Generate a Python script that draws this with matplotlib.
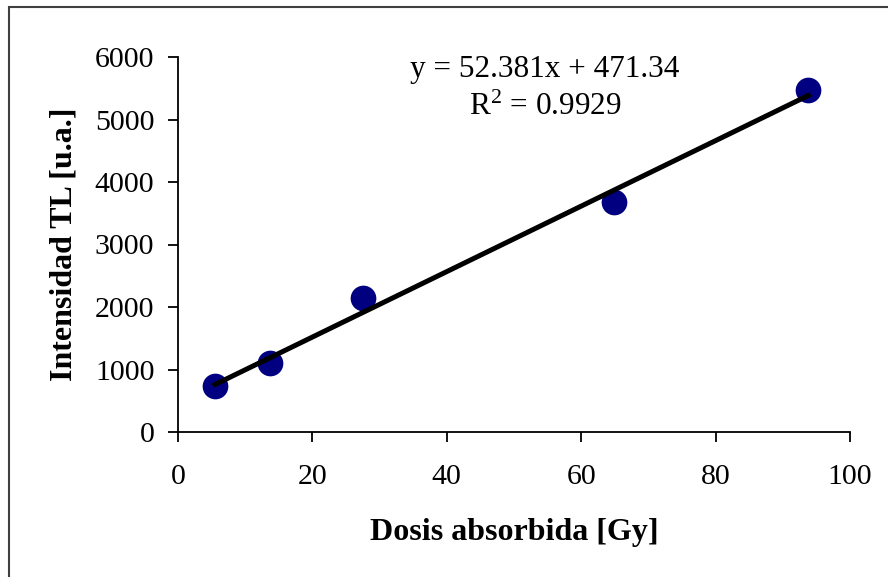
import matplotlib.pyplot as plt
import numpy as np
from matplotlib.patches import Rectangle

plt.rcParams['font.family'] = ['Liberation Serif', 'DejaVu Serif']

# dosis absorbida [Gy] vs intensidad TL [u.a.]
dosis = [5.5, 13.7, 27.5, 64.9, 93.8]
intensidad = [740, 1110, 2150, 3680, 5480]
slope = 52.381
intercept = 471.34
r2 = 0.9929

fig = plt.figure(figsize=(8.88, 5.77), dpi=100)
# outer frame (cut off at right/bottom like the reference)
fig.patches.append(Rectangle((9 / 888, -0.05), 1.0, 1 - 7 / 577 + 0.05,
                             transform=fig.transFigure, fill=False,
                             edgecolor='#404040', lw=1.5))

ax = fig.add_axes([178 / 888, 145 / 577, 672 / 888, 375 / 577])

xfit = np.array([min(dosis), max(dosis)])
ax.plot(xfit, slope * xfit + intercept, color='black', lw=3.6, zorder=3)
ax.plot(dosis, intensidad, 'o', color='#000080', markersize=18.5,
        markeredgewidth=0, zorder=2)

ax.set_xlim(0, 100)
ax.set_ylim(0, 6000)
ax.set_xticks(range(0, 101, 20))
ax.set_yticks(range(0, 6001, 1000))
ax.spines['top'].set_visible(False)
ax.spines['right'].set_visible(False)
for s in ['left', 'bottom']:
    ax.spines[s].set_linewidth(1.3)
ax.tick_params(direction='out', length=7, width=1.3, labelsize=21.5)
ax.tick_params(axis='x', pad=16)
ax.tick_params(axis='y', pad=10)

ax.set_xlabel('Dosis absorbida [Gy]', fontsize=23, fontweight='bold', labelpad=20)
ax.set_ylabel('Intensidad TL [u.a.]', fontsize=23, fontweight='bold', labelpad=12)

ax.text(54.6, 5680, 'y = %.3fx + %.2f' % (slope, intercept), fontsize=22.5,
        ha='center', va='baseline')
ax.text(54.6, 5072, '$\\mathregular{R^2}$ = %.4f' % r2, fontsize=22.5,
        ha='center', va='baseline')

fig.savefig('out.png', dpi=100)
